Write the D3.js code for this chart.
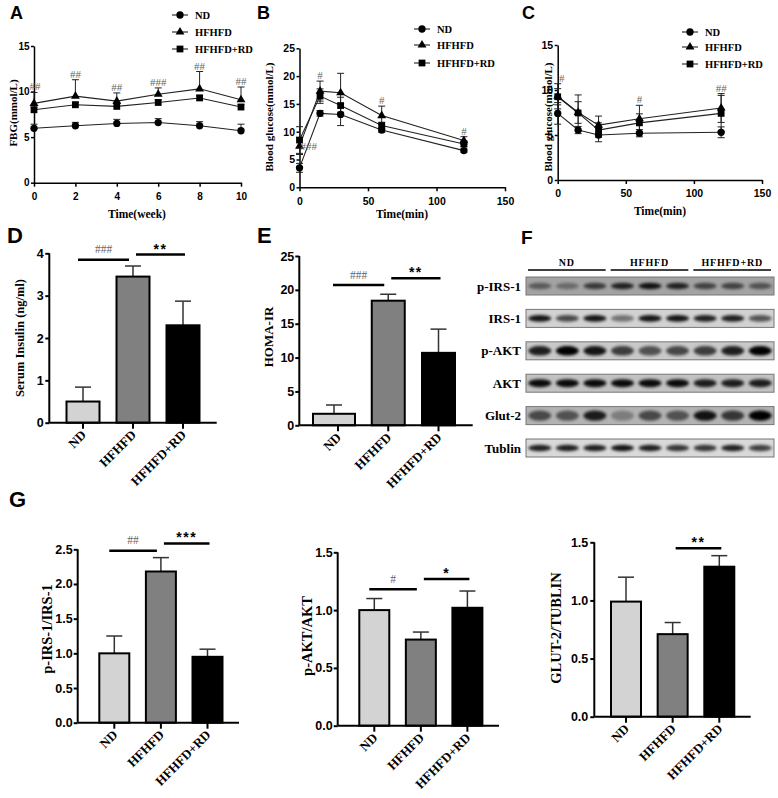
<!DOCTYPE html>
<html><head><meta charset="utf-8">
<script src="https://cdn.jsdelivr.net/npm/d3@7"></script>
<style>body{margin:0;background:#fff} svg{display:block}</style>
</head><body><svg id="c" width="778" height="798"></svg>
<script>
// ---------------- DATA ----------------
const groups = ["ND", "HFHFD", "HFHFD+RD"];
// A: fasting blood glucose
const weeks = [0, 2, 4, 6, 8, 10];
const fbgND = [5.97, 6.25, 6.5, 6.6, 6.25, 5.7];
const fbgND_sd = [0.45, 0.37, 0.45, 0.43, 0.45, 0.72];
const fbgHF = [8.7, 9.5, 8.95, 9.7, 10.3, 9.1];
const fbgHF_sd = [1.2, 1.8, 0.9, 0.7, 1.9, 1.4];
const fbgRD = [8.0, 8.55, 8.37, 8.8, 9.3, 8.3];
const fbgRD_sd = [0.3, 0.3, 0.35, 0.3, 0.3, 0.3];
const fbgSig = ["##", "##", "##", "###", "##", "##"];
const fbgYTicks = [0, 5, 10, 15];
const fbgXTicks = [0, 2, 4, 6, 8, 10];
// B: OGTT
const ogttTime = [0, 15, 30, 60, 120];
const ogttND = [3.5, 13.3, 13.1, 10.3, 6.6];
const ogttND_sd = [0.8, 0.5, 2.0, 0.4, 0.3];
const ogttHF = [7.4, 17.3, 17.0, 12.9, 8.4];
const ogttHF_sd = [1.5, 1.8, 3.5, 1.7, 0.7];
const ogttRD = [8.5, 16.4, 14.7, 11.1, 7.8];
const ogttRD_sd = [2.4, 1.3, 1.5, 0.6, 0.5];
const ogttSig = ["###", "#", "", "#", "#"];
const ogttYTicks = [0, 5, 10, 15, 20, 25];
const minXTicks = [0, 50, 100, 150];
// C: ITT
const ittTime = [0, 15, 30, 60, 120];
const ittND = [7.4, 5.55, 5.0, 5.2, 5.3];
const ittND_sd = [1.2, 0.4, 0.75, 0.4, 0.6];
const ittHF = [9.3, 7.5, 6.1, 6.8, 8.0];
const ittHF_sd = [1.4, 1.2, 1.0, 1.5, 1.6];
const ittRD = [9.25, 7.45, 5.55, 6.35, 7.4];
const ittRD_sd = [0.9, 2.0, 0.8, 1.0, 2.0];
const ittSig = ["#", "", "", "#", "##"];
const ittYTicks = [0, 5, 10, 15];
// D: serum insulin
const insulin = [0.5, 3.45, 2.3];
const insulin_sd = [0.34, 0.25, 0.57];
const insulinTicks = [0, 1, 2, 3, 4];
const insulinSig = [{a: 0, b: 1, level: 3.85, label: "###"}, {a: 1, b: 2, level: 3.97, label: "**"}];
// E: HOMA-IR
const homa = [1.7, 18.4, 10.7];
const homa_sd = [1.3, 0.95, 3.5];
const homaTicks = [0, 5, 10, 15, 20, 25];
const homaSig = [{a: 0, b: 1, level: 20.7, label: "###"}, {a: 1, b: 2, level: 21.7, label: "**"}];
// F: western blot
const blotRows = ["p-IRS-1", "IRS-1", "p-AKT", "AKT", "Glut-2", "Tublin"];
const bandPIRS = [0.45, 0.35, 0.65, 0.8, 0.9, 0.8, 0.6, 0.6, 0.5];
const bandIRS = [0.9, 0.65, 0.9, 0.45, 0.9, 0.9, 0.85, 0.85, 0.6];
const bandPAKT = [0.85, 1.0, 0.9, 0.7, 0.6, 0.65, 0.7, 0.85, 1.0];
const bandAKT = [0.95, 0.95, 0.95, 0.95, 0.95, 0.95, 0.85, 0.85, 0.85];
const bandGLUT = [0.6, 0.55, 0.85, 0.3, 0.6, 0.55, 0.9, 0.7, 1.0];
const bandTUB = [0.85, 0.85, 0.85, 0.9, 0.85, 0.75, 0.75, 0.85, 0.7];
// G: quantification
const pIrsRatio = [1.0, 2.18, 0.95];
const pIrsRatio_sd = [0.25, 0.2, 0.11];
const pIrsTicks = [0, 0.5, 1.0, 1.5, 2.0, 2.5];
const pIrsSig = [{a: 0, b: 1, level: 2.48, label: "##"}, {a: 1, b: 2, level: 2.585, label: "***"}];
const pAktRatio = [1.0, 0.745, 1.02];
const pAktRatio_sd = [0.1, 0.065, 0.145];
const ratioTicks = [0, 0.5, 1.0, 1.5];
const pAktSig = [{a: 0, b: 1, level: 1.18, label: "#"}, {a: 1, b: 2, level: 1.27, label: "*"}];
const glutRatio = [0.99, 0.71, 1.29];
const glutRatio_sd = [0.21, 0.1, 0.095];
const glutSig = [{a: 1, b: 2, level: 1.448, label: "**"}];

// ---------------- DRAWING ----------------
const svg = d3.select("#c");
const SANS = "'Liberation Sans', Arial, sans-serif";
const SERIF = "'Liberation Serif', 'Times New Roman', serif";
const barFills = ["#d3d3d3", "#808080", "#000000"];

const defs = svg.append("defs");
defs.append("filter").attr("id", "blur").attr("x", "-50%").attr("y", "-100%").attr("width", "200%").attr("height", "300%")
  .append("feGaussianBlur").attr("stdDeviation", 1.4);

function styleAxis(g, fs, sw) {
  g.select(".domain").attr("stroke", "#000").attr("stroke-width", sw);
  g.selectAll(".tick line").attr("stroke", "#000").attr("stroke-width", sw);
  g.selectAll(".tick text").attr("font-family", SANS).attr("font-weight", "bold")
    .attr("font-size", fs).attr("fill", "#000");
}
function letter(t, x, y, fs) {
  svg.append("text").attr("x", x).attr("y", y).text(t)
    .attr("font-family", SANS).attr("font-weight", "bold").attr("font-size", fs);
}
function yLabel(t, cx, cy, fs) {
  svg.append("text").attr("transform", `translate(${cx},${cy}) rotate(-90)`)
    .attr("text-anchor", "middle").attr("dy", "0.35em")
    .attr("font-family", SERIF).attr("font-weight", "bold").attr("font-size", fs).text(t);
}
function xLabel(t, cx, y, fs) {
  svg.append("text").attr("x", cx).attr("y", y).attr("text-anchor", "middle")
    .attr("font-family", SERIF).attr("font-weight", "bold").attr("font-size", fs).text(t);
}
const shapes = [d3.symbolCircle, d3.symbolTriangle, d3.symbolSquare];
const shapeSizes = [42, 34, 46];

function linePanel(c) {
  const x = d3.scaleLinear().domain(c.xDomain).range([c.x0, c.x1]);
  const y = d3.scaleLinear().domain(c.yDomain).range([c.yBot, c.yTop]);
  const g = svg.append("g");
  const ax = g.append("g").attr("transform", `translate(${c.x0},0)`)
    .call(d3.axisLeft(y).tickValues(c.yTicks).tickSize(3).tickSizeOuter(0).tickPadding(1.5).tickFormat(d3.format("d")));
  styleAxis(ax, c.tickFs, 1.5);
  const bx = g.append("g").attr("transform", `translate(0,${c.yBot})`)
    .call(d3.axisBottom(x).tickValues(c.xTicks).tickSize(4).tickSizeOuter(0).tickPadding(6).tickFormat(d3.format("d")));
  styleAxis(bx, c.tickFs, 1.5);
  const capW = 3.5;
  c.series.forEach(s => {
    s.vals.forEach((v, i) => {
      const px = x(c.xs[i]);
      const top = y(v + s.sd[i]);
      const bot = c.bothErr ? y(v - s.sd[i]) : y(v);
      g.append("line").attr("x1", px).attr("x2", px).attr("y1", top).attr("y2", bot)
        .attr("stroke", "#222").attr("stroke-width", 1);
      g.append("line").attr("x1", px - capW).attr("x2", px + capW).attr("y1", top).attr("y2", top)
        .attr("stroke", "#222").attr("stroke-width", 1);
      if (c.bothErr) g.append("line").attr("x1", px - capW).attr("x2", px + capW).attr("y1", bot).attr("y2", bot)
        .attr("stroke", "#222").attr("stroke-width", 1);
    });
  });
  const line = d3.line().x((d, i) => x(c.xs[i])).y(d => y(d));
  c.series.forEach((s, k) => {
    g.append("path").attr("d", line(s.vals)).attr("fill", "none").attr("stroke", "#222").attr("stroke-width", 1.1);
  });
  c.series.forEach((s, k) => {
    g.selectAll(null).data(s.vals).join("path")
      .attr("transform", (d, i) => `translate(${x(c.xs[i])},${y(d)})`)
      .attr("d", d3.symbol().type(shapes[k]).size(shapeSizes[k])).attr("fill", "#000");
  });
  // significance marks
  const hf = c.series[1];
  c.sig.forEach((t, i) => {
    if (!t) return;
    let px = x(c.xs[i]) + (c.sigDx ? c.sigDx[i] : 0), py = y(hf.vals[i] + hf.sd[i]) - 2, anchor = "middle";
    if (c.sigBeside && c.sigBeside[i]) { px = x(c.xs[i]) + 1; py = y(hf.vals[i]) + 4; anchor = "start"; }
    g.append("text").attr("x", px).attr("y", py).attr("text-anchor", anchor)
      .attr("font-family", SERIF).attr("font-size", 11).attr("fill", "#666").text(t);
  });
  // legend
  c.series.forEach((s, k) => {
    const ly = c.legY[k];
    g.append("line").attr("x1", c.legX - 8).attr("x2", c.legX + 8).attr("y1", ly).attr("y2", ly)
      .attr("stroke", "#222").attr("stroke-width", 1.1);
    g.append("path").attr("transform", `translate(${c.legX},${ly})`)
      .attr("d", d3.symbol().type(shapes[k]).size(shapeSizes[k])).attr("fill", "#000");
    g.append("text").attr("x", c.legX + 15).attr("y", ly).attr("dy", "0.35em")
      .attr("font-family", SERIF).attr("font-weight", "bold").attr("font-size", 10.5).text(groups[k]);
  });
  xLabel(c.xlabel, c.xlabelX, c.xlabelY, 11.5);
  yLabel(c.ylabel, c.ylabelX, c.ylabelY, 11);
  letter(c.letter, c.letterX, c.letterY, 18);
}

function barPanel(c) {
  const x = d3.scalePoint().domain(groups).range([c.c0, c.c2]);
  const y = d3.scaleLinear().domain(c.yDomain).range([c.yBot, c.yTop]);
  const g = svg.append("g");
  const bw = c.barW, bdx = c.barDx || [0, 0, 0];
  // error bars
  c.vals.forEach((v, i) => {
    const cx = x(groups[i]) + bdx[i];
    g.append("line").attr("x1", cx).attr("x2", cx).attr("y1", y(v)).attr("y2", y(v + c.sd[i]))
      .attr("stroke", "#333").attr("stroke-width", 1.5);
    g.append("line").attr("x1", cx - 8).attr("x2", cx + 8).attr("y1", y(v + c.sd[i])).attr("y2", y(v + c.sd[i]))
      .attr("stroke", "#333").attr("stroke-width", 1.5);
  });
  g.selectAll("rect.bar").data(c.vals).join("rect").attr("class", "bar")
    .attr("x", (d, i) => x(groups[i]) + bdx[i] - bw[i] / 2).attr("width", (d, i) => bw[i])
    .attr("y", d => y(d)).attr("height", d => y(0) - y(d))
    .attr("fill", (d, i) => barFills[i]).attr("stroke", "#000").attr("stroke-width", 2);
  const ax = g.append("g").attr("transform", `translate(${c.axisX},0)`)
    .call(d3.axisLeft(y).tickValues(c.yTicks).tickSize(4).tickSizeOuter(0).tickPadding(c.tickPad)
      .tickFormat(d3.format(c.fmt)));
  styleAxis(ax, 12.5, 2);
  ax.select(".domain").attr("d", `M0,${y(0)}V${y(c.yDomain[1])}`);
  g.append("line").attr("x1", c.axisX).attr("x2", c.axisEnd).attr("y1", y(0)).attr("y2", y(0))
    .attr("stroke", "#000").attr("stroke-width", 2);
  groups.forEach((k, i) => {
    const cx = x(k);
    g.append("line").attr("x1", cx).attr("x2", cx).attr("y1", y(0)).attr("y2", y(0) + 6)
      .attr("stroke", "#000").attr("stroke-width", 2);
    g.append("text").attr("transform", `translate(${cx + 4},${y(0) + 13}) rotate(-45)`)
      .attr("text-anchor", "end").attr("font-family", SERIF).attr("font-weight", "bold")
      .attr("font-size", 13).text(k);
  });
  c.sig.forEach(s => {
    const xa = x(groups[s.a]), xb = x(groups[s.b]);
    const x1 = s.a === 0 ? xa - 5 : xa + 3, x2 = s.a === 0 ? xb - 4 : xb + 2;
    const ly = y(s.level);
    g.append("line").attr("x1", x1).attr("x2", x2).attr("y1", ly).attr("y2", ly)
      .attr("stroke", "#000").attr("stroke-width", 2.5);
    const isHash = s.label[0] === "#";
    g.append("text").attr("x", (x1 + x2) / 2).attr("y", isHash ? ly - 6.5 : ly - 1)
      .attr("text-anchor", "middle")
      .attr("font-family", isHash ? SERIF : SANS).attr("font-weight", isHash ? "normal" : "bold")
      .attr("font-size", isHash ? 11.5 : 14).attr("letter-spacing", isHash ? 0 : 1.5)
      .attr("fill", isHash ? "#666" : "#000").text(s.label);
  });
  yLabel(c.ylabel, c.ylabelX, c.ylabelY, c.ylabelSize);
  if (c.letter) letter(c.letter, c.letterX, c.letterY, 22);
}

// Panel A
linePanel({
  xs: weeks, xDomain: [0, 10], yDomain: [0, 15], x0: 34, x1: 241, yBot: 182.7, yTop: 46,
  yTicks: fbgYTicks, xTicks: fbgXTicks, bothErr: false, tickFs: 10,
  series: [{vals: fbgND, sd: fbgND_sd}, {vals: fbgHF, sd: fbgHF_sd}, {vals: fbgRD, sd: fbgRD_sd}],
  sig: fbgSig, sigDx: [1, 0, 0, 0, 0, 0],
  legX: 180, legY: [15, 32, 49],
  xlabel: "Time(week)", xlabelX: 137, xlabelY: 218,
  ylabel: "FBG(mmol/L)", ylabelX: 13, ylabelY: 113,
  letter: "A", letterX: 10, letterY: 19
});
// Panel B
linePanel({
  xs: ogttTime, xDomain: [0, 150], yDomain: [0, 25], x0: 299.5, x1: 505, yBot: 187.3, yTop: 48.3,
  yTicks: ogttYTicks, xTicks: minXTicks, bothErr: true, tickFs: 10.5,
  series: [{vals: ogttND, sd: ogttND_sd}, {vals: ogttHF, sd: ogttHF_sd}, {vals: ogttRD, sd: ogttRD_sd}],
  sig: ogttSig, sigBeside: [true, false, false, false, false],
  legX: 422, legY: [29, 45, 63],
  xlabel: "Time(min)", xlabelX: 402, xlabelY: 218,
  ylabel: "Blood glucose(mmol/L)", ylabelX: 269, ylabelY: 117,
  letter: "B", letterX: 257, letterY: 19
});
// Panel C
linePanel({
  xs: ittTime, xDomain: [0, 150], yDomain: [0, 15], x0: 557.7, x1: 762, yBot: 180, yTop: 45,
  yTicks: ittYTicks, xTicks: minXTicks, bothErr: true, tickFs: 10.5,
  series: [{vals: ittND, sd: ittND_sd}, {vals: ittHF, sd: ittHF_sd}, {vals: ittRD, sd: ittRD_sd}],
  sig: ittSig, sigDx: [4, 0, 0, 0, 0],
  legX: 690, legY: [32, 47, 64],
  xlabel: "Time(min)", xlabelX: 660, xlabelY: 215,
  ylabel: "Blood glucose(mmol/L)", ylabelX: 548, ylabelY: 117,
  letter: "C", letterX: 522, letterY: 19
});
// Panel D
barPanel({
  vals: insulin, sd: insulin_sd, yDomain: [0, 4], yTicks: insulinTicks, fmt: "d", tickPad: 1.5, yBot: 422.7, yTop: 253.3,
  axisX: 49.3, axisEnd: 216.7, c0: 83, c2: 183, barW: [33, 33, 33], sig: insulinSig,
  ylabel: "Serum Insulin (ng/ml)", ylabelX: 20, ylabelY: 338, ylabelSize: 12.5,
  letter: "D", letterX: 7, letterY: 243
});
// Panel E
barPanel({
  vals: homa, sd: homa_sd, yDomain: [0, 25], yTicks: homaTicks, fmt: "d", tickPad: 1, yBot: 425.3, yTop: 256,
  axisX: 299.3, axisEnd: 472.7, c0: 338, c2: 438.5, barW: [42, 33, 33], barDx: [-4, 0, 0], sig: homaSig,
  ylabel: "HOMA-IR", ylabelX: 268, ylabelY: 337, ylabelSize: 13,
  letter: "E", letterX: 257, letterY: 243
});
// Panel G
barPanel({
  vals: pIrsRatio, sd: pIrsRatio_sd, yDomain: [0, 2.5], yTicks: pIrsTicks, fmt: ".1f", tickPad: 1, yBot: 722.7, yTop: 549.3,
  axisX: 77.7, axisEnd: 239, c0: 114.3, c2: 207.5, barW: [30, 30, 30], sig: pIrsSig,
  ylabel: "p-IRS-1/IRS-1", ylabelX: 47, ylabelY: 629, ylabelSize: 14.5,
  letter: "G", letterX: 9, letterY: 507
});
barPanel({
  vals: pAktRatio, sd: pAktRatio_sd, yDomain: [0, 1.5], yTicks: ratioTicks, fmt: ".1f", tickPad: 1, yBot: 725.7, yTop: 552.3,
  axisX: 337.7, axisEnd: 499, c0: 374.3, c2: 467.4, barW: [30, 30, 30], sig: pAktSig,
  ylabel: "p-AKT/AKT", ylabelX: 306.5, ylabelY: 636, ylabelSize: 14.5
});
barPanel({
  vals: glutRatio, sd: glutRatio_sd, yDomain: [0, 1.5], yTicks: ratioTicks, fmt: ".1f", tickPad: 2, yBot: 716.7, yTop: 542.3,
  axisX: 594.3, axisEnd: 750.7, c0: 626, c2: 719.3, barW: [30, 30, 30], sig: glutSig,
  ylabel: "GLUT-2/TUBLIN", ylabelX: 556, ylabelY: 628, ylabelSize: 14.5
});

// Panel F: western blot
(function () {
  const bands = [bandPIRS, bandIRS, bandPAKT, bandAKT, bandGLUT, bandTUB];
  const rowBg = ["#a3a3a3", "#d2d2d2", "#c9c9c9", "#c2c2c2", "#b3b3b3", "#d9d9d9"];
  const rowRy = [3.2, 3.4, 4.8, 4.0, 5.2, 3.3];
  const lane = d3.scaleBand().domain(d3.range(9)).range([526, 774]);
  const row = d3.scalePoint().domain(blotRows).range([286, 448]);
  const g = svg.append("g");
  const stripH = 18;
  blotRows.forEach((r, k) => {
    const cy = row(r);
    const clipId = "clip" + k;
    defs.append("clipPath").attr("id", clipId).append("rect")
      .attr("x", 526).attr("y", cy - stripH / 2).attr("width", 248).attr("height", stripH);
    g.append("rect").attr("x", 526).attr("y", cy - stripH / 2).attr("width", 248).attr("height", stripH)
      .attr("fill", rowBg[k]);
    const bg = g.append("g").attr("clip-path", `url(#${clipId})`);
    bg.selectAll("ellipse").data(bands[k]).join("ellipse")
      .attr("cx", (d, i) => lane(i) + lane.bandwidth() / 2).attr("cy", cy)
      .attr("rx", lane.bandwidth() * 0.42).attr("ry", rowRy[k])
      .attr("fill", "#000").attr("opacity", d => d).attr("filter", "url(#blur)");
    g.append("rect").attr("x", 526).attr("y", cy - stripH / 2).attr("width", 248).attr("height", stripH)
      .attr("fill", "none").attr("stroke", "#777").attr("stroke-width", 1);
    g.append("text").attr("x", 521).attr("y", cy).attr("dy", "0.35em").attr("text-anchor", "end")
      .attr("font-family", SERIF).attr("font-weight", "bold").attr("font-size", 13).text(r);
  });
  groups.forEach((k, j) => {
    const xs = lane(j * 3) + 2, xe = lane(j * 3 + 2) + lane.bandwidth() - 3;
    g.append("line").attr("x1", xs).attr("x2", xe).attr("y1", 270).attr("y2", 270)
      .attr("stroke", "#000").attr("stroke-width", 1.3);
    g.append("text").attr("x", (xs + xe) / 2).attr("y", 266).attr("text-anchor", "middle")
      .attr("font-family", SERIF).attr("font-weight", "bold").attr("font-size", 10)
      .attr("letter-spacing", 0.8).text(k);
  });
  letter("F", 521, 244, 19);
})();
</script>
</body></html>
